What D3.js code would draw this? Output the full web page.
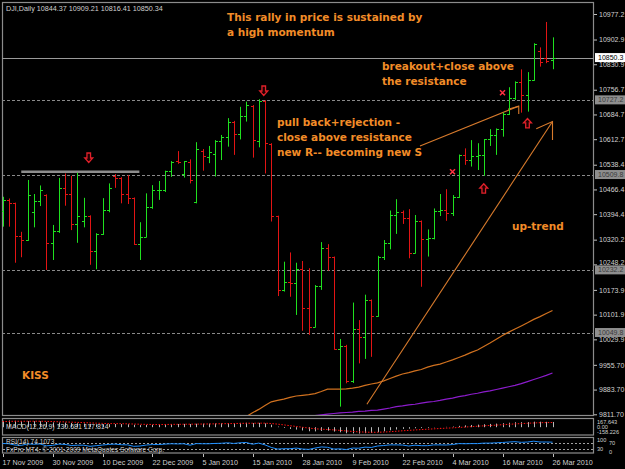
<!DOCTYPE html>
<html>
<head>
<meta charset="utf-8">
<script src="https://cdn.jsdelivr.net/npm/d3@7"></script>
<style>
  body { margin: 0; background: #000; }
  svg { display: block; }
  text { font-family: "Liberation Sans", Arial, sans-serif; }
  .note { font-family: "DejaVu Sans", sans-serif; font-weight: bold; font-size: 10.5px; fill: #f28c28; }
</style>
</head>
<body>
<div id="vis1"></div>
<script>
// DJI daily bars, 17 Nov 2009 .. 26 Mar 2010 (89 trading days)
const OPEN = [10405,10437,10426,10332,10318,10400,10434,10450,10310,
  10345,10472,10453,10366,10375,10390,10286,10337,
  10406,10505,10499,10452,10441,10308,10329,10414,
  10465,10466,10520,10548,10510,10546,
  10430,10579,10560,10570,10606,10620,10664,10627,10680,10710,
  10608,10724,10600,10390,10175,10197,10194,10236,10120,
  10067,10186,10297,10271,10003,10012,9908,10059,10038,10144,
  10099,10269,10309,10393,10402,10383,10282,10374,10321,
  10325,10404,10406,10397,10444,10566,10553,10564,
  10567,10612,10625,10642,10686,10734,10779,10742,10786,10870,10848,10844.37];
const HIGH = [10445,10440,10428,10343,10494,10453,10478,10452,10363,
  10500,10513,10506,10515,10442,10391,10339,10441,
  10484,10511,10502,10508,10443,10371,10455,10479,
  10491,10521,10549,10578,10549,10554,
  10604,10584,10593,10610,10625,10674,10666,10707,10722,10712,
  10729,10726,10601,10390,10256,10283,10253,10258,10237,
  10188,10313,10307,10271,10031,10014,10137,10086,10160,10146,
  10273,10319,10405,10438,10405,10409,10392,10376,10350,
  10411,10453,10467,10450,10568,10586,10610,10601,
  10613,10642,10644,10690,10764,10781,10816,10808,10892,10880,10954,10909.21];
const LOW = [10358,10358,10253,10269,10317,10356,10418,10232,10261,
  10340,10419,10348,10311,10356,10247,10234,10334,
  10400,10471,10426,10424,10305,10261,10327,10410,
  10436,10459,10503,10541,10501,10484,
  10426,10521,10543,10504,10552,10591,10567,10612,10664,10559,
  10589,10513,10373,10156,10169,10154,10101,10055,10043,
  10065,10174,10230,10000,9834,9902,9903,9960,9973,9979,
  10096,10261,10292,10337,10366,10266,10280,10183,10271,
  10321,10389,10375,10389,10442,10538,10533,10523,
  10506,10593,10567,10620,10683,10727,10690,10693,10783,10824,10834,10816.41];
const CLOSE = [10437,10426,10332,10318,10451,10434,10464,10310,10345,
  10472,10453,10366,10389,10390,10286,10337,10406,
  10472,10501,10452,10441,10308,10329,10414,10465,
  10466,10520,10547,10545,10548,10495,
  10584,10565,10574,10607,10618,10664,10627,10681,10711,10610,
  10725,10603,10390,10173,10197,10194,10236,10120,10067,
  10186,10297,10271,10002,10012,9908,10059,10038,10144,10099,
  10269,10309,10393,10402,10383,10282,10374,10321,10325,
  10404,10406,10397,10444,10566,10553,10564,10567,
  10612,10625,10642,10686,10734,10779,10742,10786,10889,10836,10841,10850.34];

// moving averages (only the visible part)
const MA_ORANGE_START = 38;
const MA_ORANGE = [9794,9805,9816,9826,9837,9848,9852,9856,9861,9865,9867,9869,9872,9878,
  9885,9885,9885,9886,9888,9891,9896,9900,9903,9909,9916,9923,9929,9933,9938,9942,
  9949,9954,9958,9964,9970,9977,9984,9992,9999,10009,10019,10030,10041,10051,10060,
  10069,10078,10088,10096,10105,10114];
const MA_PURPLE_START = 48;
const MA_PURPLE = [9802,9806,9808,9810,9812,9814,9816,9817,9818,9820,9821,9823,9824,9827,
  9830,9834,9836,9839,9841,9844,9847,9849,9852,9856,9859,9863,9866,9870,9873,9877,
  9880,9884,9888,9892,9896,9901,9907,9913,9919,9925,9932];

// MACD(12,26,9)
const MACD_MAIN = [160,167.6,160,150,152,150,150,132,120,
  118,114,104,98,92,80,72,72,
  75,80,78,74,60,52,55,60,
  64,70,76,80,82,78,
  86,88,90,94,97,104,103,108,112,103,
  108,95,62,15,-20,-45,-60,-82,-102,
  -105,-95,-88,-110,-128,-152,-155,-158,-150,-145,
  -125,-103,-78,-58,-43,-38,-27,-22,-17,
  -7,2,8,16,34,46,56,64,
  74,82,90,100,112,124,125,128,138,137,134,130.7];
const MACD_SIGNAL = [140,145,148,148,149,149,149,146,141,
  136,132,126,120,115,108,101,95,
  91,89,87,84,79,74,70,68,
  67,68,70,72,74,75,
  77,79,81,84,86,90,92,95,98,99,
  101,100,92,77,58,37,18,-2,-22,
  -39,-50,-58,-68,-80,-94,-106,-117,-123,-128,
  -127,-122,-113,-102,-90,-80,-69,-60,-51,
  -42,-33,-25,-17,-7,3,14,24,
  34,43,52,62,72,82,90,98,106,112,115,117.8];

// RSI(14)
const RSI = [66,64,56,54,63,61,63,51,54,
  62,60,53,55,55,48,52,56,
  60,62,58,57,48,50,56,59,
  59,62,64,63,64,55,
  65,64,64,66,67,70,66,70,72,61,
  68,57,41,31,33,33,37,31,29,
  37,44,42,31,32,28,37,36,43,41,
  50,53,57,57,56,50,55,52,52,
  57,57,56,59,65,64,65,65,
  68,68,70,72,75,77,73,75,80,75,75,74.1];

// axis labels
const DATE_INDEX = [0,8,16,24,32,40,48,56,64,72,80,88];
const DATE_LABELS = ["17 Nov 2009","30 Nov 2009","10 Dec 2009","22 Dec 2009","5 Jan 2010","15 Jan 2010",
  "28 Jan 2010","9 Feb 2010","22 Feb 2010","4 Mar 2010","16 Mar 2010","26 Mar 2010"];
const PRICE_LABELS = ["10977.2","10902.9","10830.9","10756.7","10684.7","10612.7","10538.4","10466.4",
  "10394.4","10320.2","10248.2","10173.9","10101.9","10029.9","9955.70","9883.70","9811.70"];
const LEVELS = [10727.2, 10509.8, 10232.2, 10049.8];
const BID = 10850.34;
const MACD_LABELS = ["167.643", "0.00", "-158.226"];
const RSI_LABELS = ["100", "70", "30", "0"];

// drawn objects, in (bar index, price)
const TREND_LINES = [
  [[58.3, 9841], [88.0, 10664]],
  [[85.4, 10643], [88.0, 10664], [88.0, 10610]],
  [[66.8, 10593], [82.6, 10709]],
  [[80.9, 10700], [82.6, 10709], [82.6, 10686]]
];
const DOWN_ARROWS = [[13.8, 10558], [41.8, 10753]];
const UP_ARROWS = [[77.0, 10470], [84.0, 10660]];
const CROSSES = [[72.0, 10518], [80.0, 10748]];
const RESIST_SEG = [[3.0, 10518], [21.9, 10518]];

const FRAME_WIDTH = 625;
const FRAME_HEIGHT = 469;
const MAIN = {left: 2, right: 594, top: 2, bottom: 415};

const FRAME = d3.select("#vis1")
  .append("svg")
    .attr("width", FRAME_WIDTH)
    .attr("height", FRAME_HEIGHT)
    .style("background", "#000");

// scales
const X = d3.scaleLinear().domain([0, 88]).range([2.5, 552.5]);
const Y = d3.scaleLinear().domain([9811.7, 10977.2]).range([414.3, 14]);
const MY = d3.scaleLinear().domain([-158.226, 167.643]).range([433.5, 420.5]);
const RY = d3.scaleLinear().domain([0, 100]).range([454, 438]);

const px = (i) => Math.round(X(i)) + 0.5;

FRAME.append("defs").append("clipPath").attr("id", "clipMain")
  .append("rect")
    .attr("x", MAIN.left).attr("y", MAIN.top)
    .attr("width", MAIN.right - MAIN.left).attr("height", MAIN.bottom - MAIN.top);

// panel frames
FRAME.selectAll(".panel")
  .data([[2.5, 2.5, 413], [2.5, 418.5, 16.5], [2.5, 437.5, 15.5]])
  .enter()
  .append("rect")
    .attr("x", (d) => d[0]).attr("y", (d) => d[1])
    .attr("width", 591).attr("height", (d) => d[2])
    .attr("fill", "none").attr("stroke", "#8c8c8c").attr("stroke-width", 1.2);

const PLOT = FRAME.append("g").attr("clip-path", "url(#clipMain)");

// level lines
PLOT.selectAll(".level")
  .data(LEVELS)
  .enter()
  .append("line")
    .attr("x1", MAIN.left).attr("x2", MAIN.right)
    .attr("y1", (d) => Math.round(Y(d)) + 0.5).attr("y2", (d) => Math.round(Y(d)) + 0.5)
    .attr("stroke", "#8a8a8a").attr("stroke-dasharray", "3,2");

PLOT.append("line")
  .attr("x1", MAIN.left).attr("x2", MAIN.right)
  .attr("y1", Math.round(Y(BID)) + 0.5).attr("y2", Math.round(Y(BID)) + 0.5)
  .attr("stroke", "#9a9a9a");

// resistance segment
PLOT.append("line")
  .attr("x1", X(RESIST_SEG[0][0])).attr("x2", X(RESIST_SEG[1][0]))
  .attr("y1", Y(RESIST_SEG[0][1])).attr("y2", Y(RESIST_SEG[1][1]))
  .attr("stroke", "#8e8e8e").attr("stroke-width", 2.4);

// moving averages
const lineGen = d3.line().x((d) => X(d[0])).y((d) => Y(d[1]));
PLOT.append("path")
  .attr("d", lineGen(MA_ORANGE.map((v, k) => [MA_ORANGE_START + k, v])))
  .attr("fill", "none").attr("stroke", "#d0711f").attr("stroke-width", 1.2);
PLOT.append("path")
  .attr("d", lineGen(MA_PURPLE.map((v, k) => [MA_PURPLE_START + k, v])))
  .attr("fill", "none").attr("stroke", "#8c1ccc").attr("stroke-width", 1.2);

// trend lines
PLOT.selectAll(".trend")
  .data(TREND_LINES)
  .enter()
  .append("path")
    .attr("d", (d) => lineGen(d))
    .attr("fill", "none").attr("stroke", "#d77a2c").attr("stroke-width", 1.1);

// bars
const idx = d3.range(CLOSE.length);
const barColor = (i) => CLOSE[i] >= OPEN[i] ? "#1fe01f" : "#e21414";
const BARS = PLOT.selectAll(".bar").data(idx).enter().append("g").attr("stroke", barColor);
BARS.append("line")
  .attr("x1", px).attr("x2", px)
  .attr("y1", (i) => Y(HIGH[i])).attr("y2", (i) => Y(LOW[i]));
BARS.append("line")
  .attr("x1", (i) => px(i) - 2.5).attr("x2", px)
  .attr("y1", (i) => Math.round(Y(OPEN[i])) + 0.5).attr("y2", (i) => Math.round(Y(OPEN[i])) + 0.5);
BARS.append("line")
  .attr("x1", px).attr("x2", (i) => px(i) + 2.5)
  .attr("y1", (i) => Math.round(Y(CLOSE[i])) + 0.5).attr("y2", (i) => Math.round(Y(CLOSE[i])) + 0.5);

// arrows
const arrowPath = "M-1.8,-5 L1.8,-5 L1.8,0 L4,0 L0,4.5 L-4,0 L-1.8,0 Z";
PLOT.selectAll(".darrow").data(DOWN_ARROWS).enter().append("path")
  .attr("d", arrowPath)
  .attr("transform", (d) => "translate(" + X(d[0]) + "," + Y(d[1]) + ")")
  .attr("fill", "#200000").attr("stroke", "#e0202a").attr("stroke-width", 1.3);
PLOT.selectAll(".uarrow").data(UP_ARROWS).enter().append("path")
  .attr("d", arrowPath)
  .attr("transform", (d) => "translate(" + X(d[0]) + "," + Y(d[1]) + ") rotate(180)")
  .attr("fill", "#200000").attr("stroke", "#e0202a").attr("stroke-width", 1.3);
PLOT.selectAll(".cross").data(CROSSES).enter().append("path")
  .attr("d", "M-2.5,-2.5 L2.5,2.5 M-2.5,2.5 L2.5,-2.5")
  .attr("transform", (d) => "translate(" + X(d[0]) + "," + Y(d[1]) + ")")
  .attr("stroke", "#ff3040").attr("stroke-width", 1.5);

// notes
const NOTES = FRAME.append("g");
[["This rally in price is sustained by", 227, 21], ["a high momentum", 227, 36],
 ["breakout+close above", 382, 70], ["the resistance", 382, 85],
 ["pull back+rejection -", 277, 126], ["close above resistance", 277, 141],
 ["new R-- becoming new S", 277, 155.5], ["up-trend", 512, 230], ["KISS", 22, 379]]
  .forEach((n) => NOTES.append("text").attr("class", "note").attr("x", n[1]).attr("y", n[2]).text(n[0]));

// header
FRAME.append("text").attr("x", 6).attr("y", 10.5)
  .attr("font-size", 7.2).attr("fill", "#d0d0d0")
  .text("DJI,Daily  10844.37 10909.21 10816.41 10850.34");

// price axis
const yAxis = FRAME.append("g")
  .attr("transform", "translate(" + MAIN.right + ",0)")
  .call(d3.axisRight(Y)
    .tickValues(PRICE_LABELS.map((s) => +s))
    .tickFormat((d, k) => PRICE_LABELS[k])
    .tickSize(3).tickPadding(2));
yAxis.select(".domain").remove();
yAxis.selectAll("line").attr("stroke", "#c0c0c0");
yAxis.selectAll("text").attr("fill", "#d0d0d0").attr("font-size", 7)
  .attr("font-family", "Liberation Sans, Arial, sans-serif")
  // tick labels sitting just above a level box are lifted a little
  .attr("dy", (d) => LEVELS.some((l) => d > l && d - l < 20) ? "-0.05em" : "0.32em");

// level labels
FRAME.selectAll(".lvlbox").data(LEVELS).enter().append("rect")
  .attr("x", MAIN.right + 1).attr("y", (d) => Y(d) - 4.5)
  .attr("width", 30).attr("height", 9).attr("fill", "#8e8e8e");
FRAME.selectAll(".lvltxt").data(LEVELS).enter().append("text")
  .attr("x", MAIN.right + 4).attr("y", (d) => Y(d) + 2.6)
  .attr("font-size", 7).attr("fill", "#3a3a3a").text((d) => d.toFixed(1));
FRAME.append("rect").attr("x", MAIN.right + 1).attr("y", Y(BID) - 4.5)
  .attr("width", 30).attr("height", 9).attr("fill", "#ffffff");
FRAME.append("text").attr("x", MAIN.right + 4).attr("y", Y(BID) + 2.6)
  .attr("font-size", 7).attr("fill", "#000").text(BID.toFixed(1));

// MACD window
const MACD_G = FRAME.append("g");
MACD_G.selectAll(".hist").data(idx).enter().append("line")
  .attr("x1", px).attr("x2", px)
  .attr("y1", MY(0)).attr("y2", (i) => MY(MACD_MAIN[i]))
  .attr("stroke", "#b8b8b8");
MACD_G.append("path")
  .attr("d", d3.line().x((d, i) => X(i)).y((d) => MY(d))(MACD_SIGNAL))
  .attr("fill", "none").attr("stroke", "#ff1010").attr("stroke-dasharray", "1.5,1.5");
MACD_G.append("text").attr("x", 6).attr("y", 429).attr("font-size", 7).attr("fill", "#d0d0d0")
  .text("MACD(12,26,9) 130.681 117.814");
MACD_G.selectAll(".mlab").data(MACD_LABELS).enter().append("text")
  .attr("x", MAIN.right + 3).attr("y", (d, k) => 424.3 + k * 4.9)
  .attr("font-size", 5.6).attr("fill", "#d0d0d0").text((d) => d);

// RSI window
const RSI_G = FRAME.append("g");
RSI_G.selectAll(".rlev").data([70, 30]).enter().append("line")
  .attr("x1", MAIN.left + 1).attr("x2", MAIN.right - 1)
  .attr("y1", (d) => Math.round(RY(d)) + 0.5).attr("y2", (d) => Math.round(RY(d)) + 0.5)
  .attr("stroke", "#a0a0a0").attr("stroke-dasharray", "2,2");
RSI_G.append("path")
  .attr("d", d3.line().x((d, i) => X(i)).y((d) => RY(d))(RSI))
  .attr("fill", "none").attr("stroke", "#1e8fff").attr("stroke-width", 1);
RSI_G.append("text").attr("x", 6).attr("y", 444.3).attr("font-size", 6.6).attr("fill", "#d0d0d0")
  .text("RSI(14) 74.1073");
RSI_G.append("text").attr("x", 6).attr("y", 452.3).attr("font-size", 6.6).attr("fill", "#d0d0d0")
  .text("FxPro MT4, \u00a9 2001-2009 MetaQuotes Software Corp.");
RSI_G.selectAll(".rlab").data(RSI_LABELS).enter().append("text")
  .attr("x", (d, k) => MAIN.right + 3 + (k % 2) * 12)
  .attr("y", (d, k) => [442, 445, 450.5, 453.5][k])
  .attr("font-size", 5.6).attr("fill", "#d0d0d0").text((d) => d);

// date axis
FRAME.selectAll(".dtick").data(DATE_INDEX).enter().append("line")
  .attr("x1", px).attr("x2", px).attr("y1", 454).attr("y2", 457)
  .attr("stroke", "#c0c0c0");
FRAME.selectAll(".dlabel").data(DATE_INDEX).enter().append("text")
  .attr("x", (i) => X(i)).attr("y", 465)
  .attr("font-size", 7.2).attr("fill", "#d0d0d0")
  .text((i, k) => DATE_LABELS[k]);
</script>
</body>
</html>
